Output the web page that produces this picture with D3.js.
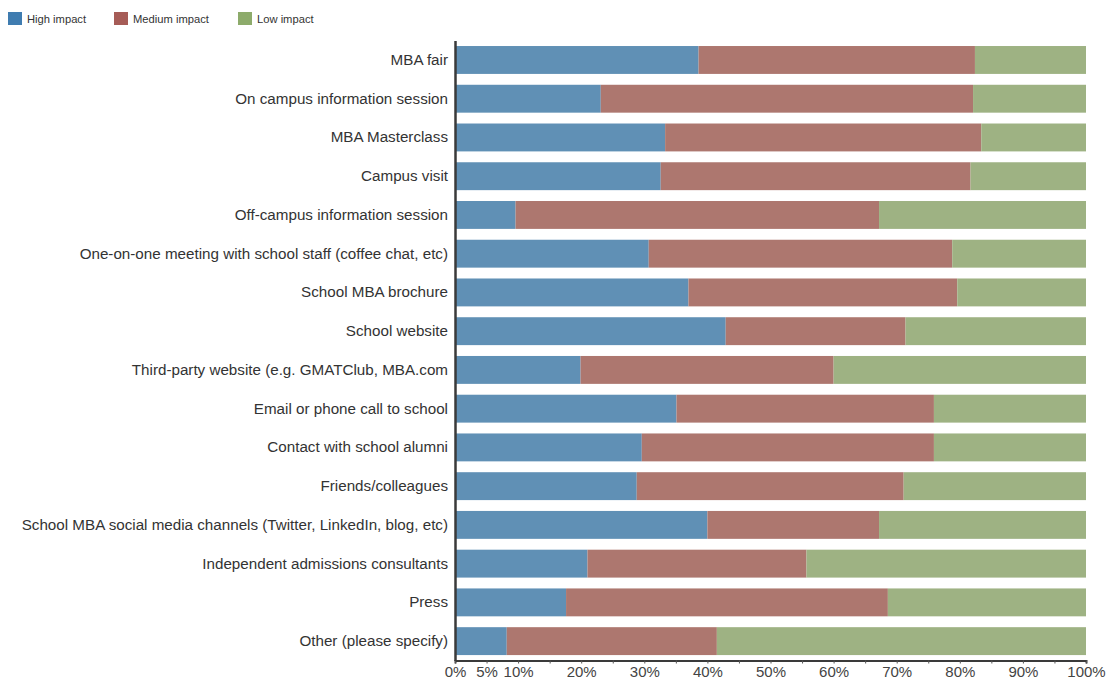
<!DOCTYPE html>
<html>
<head>
<meta charset="utf-8">
<script src="https://cdn.jsdelivr.net/npm/d3@7"></script>
<style>
  html, body { margin: 0; padding: 0; background: #fff; }
  svg { display: block; font-family: "Liberation Sans", Arial, sans-serif; }
</style>
</head>
<body>
<svg id="chart" width="1110" height="681"></svg>
<script>
// Survey channels and share of respondents rating each one by impact level (%)
const categories = [
  "MBA fair",
  "On campus information session",
  "MBA Masterclass",
  "Campus visit",
  "Off-campus information session",
  "One-on-one meeting with school staff (coffee chat, etc)",
  "School MBA brochure",
  "School website",
  "Third-party website (e.g. GMATClub, MBA.com",
  "Email or phone call to school",
  "Contact with school alumni",
  "Friends/colleagues",
  "School MBA social media channels (Twitter, LinkedIn, blog, etc)",
  "Independent admissions consultants",
  "Press",
  "Other (please specify)"
];
const highImpact   = [38.6, 23.1, 33.3, 32.6,  9.6, 30.7, 37.0, 42.9, 19.9, 35.1, 29.6, 28.8, 40.0, 21.0, 17.6,  8.2];
const mediumImpact = [43.8, 59.0, 50.1, 49.1, 57.6, 48.1, 42.6, 28.5, 40.1, 40.8, 46.3, 42.3, 27.2, 34.7, 51.0, 33.3];
const lowImpact    = [17.6, 17.9, 16.6, 18.3, 32.8, 21.2, 20.4, 28.6, 40.0, 24.1, 24.1, 28.9, 32.8, 44.3, 31.4, 58.5];

const seriesNames = ["High impact", "Medium impact", "Low impact"];
const barColors    = ["#6090b5", "#ad776f", "#9eb283"];
const legendColors = ["#3f7cb0", "#a65c57", "#8dab6b"];

const xTickValues = d3.range(0, 101, 5);
const xTickLabels = [0, 5, 10, 20, 30, 40, 50, 60, 70, 80, 90, 100];

const rows = categories.map((c, i) => ({
  category: c,
  "High impact": highImpact[i],
  "Medium impact": mediumImpact[i],
  "Low impact": lowImpact[i]
}));

const svg = d3.select("#chart");
const margin = { top: 40.6, right: 24, bottom: 20.5, left: 455 };
const width = 1110 - margin.left - margin.right;
const height = 681 - margin.top - margin.bottom;

const g = svg.append("g").attr("transform", `translate(${margin.left},${margin.top})`);

const x = d3.scaleLinear().domain([0, 100]).range([0, width]);
const y = d3.scaleBand().domain(categories).range([0, height])
  .paddingInner(0.28).paddingOuter(0.14);
const color = d3.scaleOrdinal().domain(seriesNames).range(barColors);

const stacked = d3.stack().keys(seriesNames)(rows);

g.selectAll("g.series")
  .data(stacked)
  .join("g")
  .attr("class", "series")
  .attr("fill", d => color(d.key))
  .selectAll("rect")
  .data(d => d)
  .join("rect")
  .attr("x", d => x(d[0]))
  .attr("y", d => y(d.data.category))
  .attr("width", d => x(d[1]) - x(d[0]))
  .attr("height", y.bandwidth());

// Bottom axis: ticks every 5%, labels only at 0, 5 and multiples of 10
const xAxis = d3.axisBottom(x)
  .tickValues(xTickValues)
  .tickSize(3)
  .tickPadding(3)
  .tickFormat(v => xTickLabels.includes(v) ? v + "%" : "");

const xg = g.append("g")
  .attr("transform", `translate(0,${height})`)
  .call(xAxis);
xg.select(".domain").attr("stroke", "#3a3a3a").attr("stroke-width", 2);
xg.selectAll(".tick line").attr("stroke", "#555");
xg.selectAll(".tick text")
  .attr("fill", "#444")
  .style("font-size", "15px");

// Left axis with category labels
const yAxis = d3.axisLeft(y).tickSize(0).tickPadding(7);
const yg = g.append("g").call(yAxis);
yg.select(".domain").attr("stroke", "#3a3a3a").attr("stroke-width", 2.5);
yg.selectAll(".tick text")
  .attr("fill", "#333")
  .style("font-size", "15.2px");

// Legend
const legend = svg.append("g").attr("transform", "translate(8,12)");
const legendX = [0, 106, 230];
seriesNames.forEach((name, i) => {
  const item = legend.append("g").attr("transform", `translate(${legendX[i]},0)`);
  item.append("rect")
    .attr("width", 14).attr("height", 13)
    .attr("fill", legendColors[i]);
  item.append("text")
    .attr("x", 19).attr("y", 10.5)
    .attr("fill", "#333")
    .style("font-size", "11.2px")
    .text(name);
});
</script>
</body>
</html>
